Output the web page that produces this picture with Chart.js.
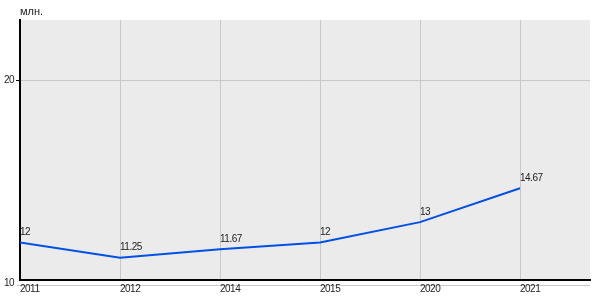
<!DOCTYPE html>
<html>
<head>
<meta charset="utf-8">
<script src="https://cdn.jsdelivr.net/npm/chart.js@4"></script>
<style>
    html, body { margin: 0; padding: 0; background: #fff; }
    #wrap { width: 600px; height: 300px; }
</style>
</head>
<body>
<div id="wrap"><canvas id="chart" width="600" height="300"></canvas></div>
<script>
const years = ["2011", "2012", "2014", "2015", "2020", "2021"];
const values = [12, 11.25, 11.67, 12, 13, 14.67];
const valueLabels = ["12", "11.25", "11.67", "12", "13", "14.67"];
const yTicks = [10, 20];
const unitLabel = "млн.";

const FONT = "Arial, 'Liberation Sans', sans-serif";
const SPACING = "-0.5px";

// grey plot background + extra grey line below the x axis
const backdrop = {
    id: "backdrop",
    beforeDraw(chart) {
        const { ctx, chartArea: a } = chart;
        ctx.letterSpacing = SPACING;
        ctx.save();
        ctx.fillStyle = "#ebebeb";
        ctx.fillRect(a.left, a.top, a.right - a.left, a.bottom - a.top);
        ctx.strokeStyle = "#c8c8c8";
        ctx.lineWidth = 1;
        ctx.beginPath();
        ctx.moveTo(a.left - 3, a.bottom + 5.5);
        ctx.lineTo(a.right, a.bottom + 5.5);
        ctx.stroke();
        ctx.restore();
    }
};

// value labels above the points and unit label top-left
const labels = {
    id: "labels",
    afterDatasetsDraw(chart) {
        const { ctx, chartArea: a } = chart;
        const meta = chart.getDatasetMeta(0);
        ctx.save();
        ctx.letterSpacing = SPACING;
        ctx.font = "10px " + FONT;
        ctx.fillStyle = "#222";
        ctx.textAlign = "left";
        ctx.textBaseline = "bottom";
        meta.data.forEach((pt, i) => {
            ctx.fillText(valueLabels[i], pt.x, pt.y - 5);
        });
        // unit label
        ctx.letterSpacing = "0px";
        ctx.font = "11px " + FONT;
        ctx.textBaseline = "alphabetic";
        ctx.fillText(unitLabel, a.left, a.top - 5);
        ctx.restore();
    }
};

new Chart(document.getElementById("chart"), {
    type: "line",
    data: {
        datasets: [{
            data: values.map((v, i) => ({ x: i, y: v })),
            borderColor: "#0050e6",
            borderWidth: 2,
            pointRadius: 0,
            tension: 0,
            fill: false
        }]
    },
    options: {
        responsive: false,
        animation: false,
        layout: { padding: { top: 20, right: 10, left: 0, bottom: 0 } },
        plugins: { legend: { display: false }, tooltip: { enabled: false } },
        scales: {
            x: {
                type: "linear",
                min: 0,
                max: 5.7,
                afterBuildTicks(scale) {
                    scale.ticks = years.map((y, i) => ({ value: i }));
                },
                afterFit(scale) { scale.height = 20; },
                ticks: {
                    callback: (v) => years[v],
                    color: "#222",
                    font: { size: 10, family: FONT },
                    padding: 3,
                    align: "start",
                    maxRotation: 0
                },
                grid: { color: "#c8c8c8", lineWidth: 1, drawTicks: false },
                border: { color: "#000", width: 2 }
            },
            y: {
                min: 10.15,
                max: 22.96,
                afterBuildTicks(scale) {
                    scale.ticks = yTicks.map(v => ({ value: v }));
                },
                afterFit(scale) { scale.width = 20; },
                ticks: {
                    color: "#222",
                    font: { size: 10, family: FONT },
                    padding: 2
                },
                grid: {
                    color: (c) => c.tick && c.tick.value === 10 ? "rgba(0,0,0,0)" : "#c8c8c8",
                    tickColor: (c) => c.tick && c.tick.value === 10 ? "rgba(0,0,0,0)" : "#000",
                    tickLength: 4,
                    lineWidth: 1
                },
                border: { color: "#000", width: 2 }
            }
        }
    },
    plugins: [backdrop, labels]
});
</script>
</body>
</html>
